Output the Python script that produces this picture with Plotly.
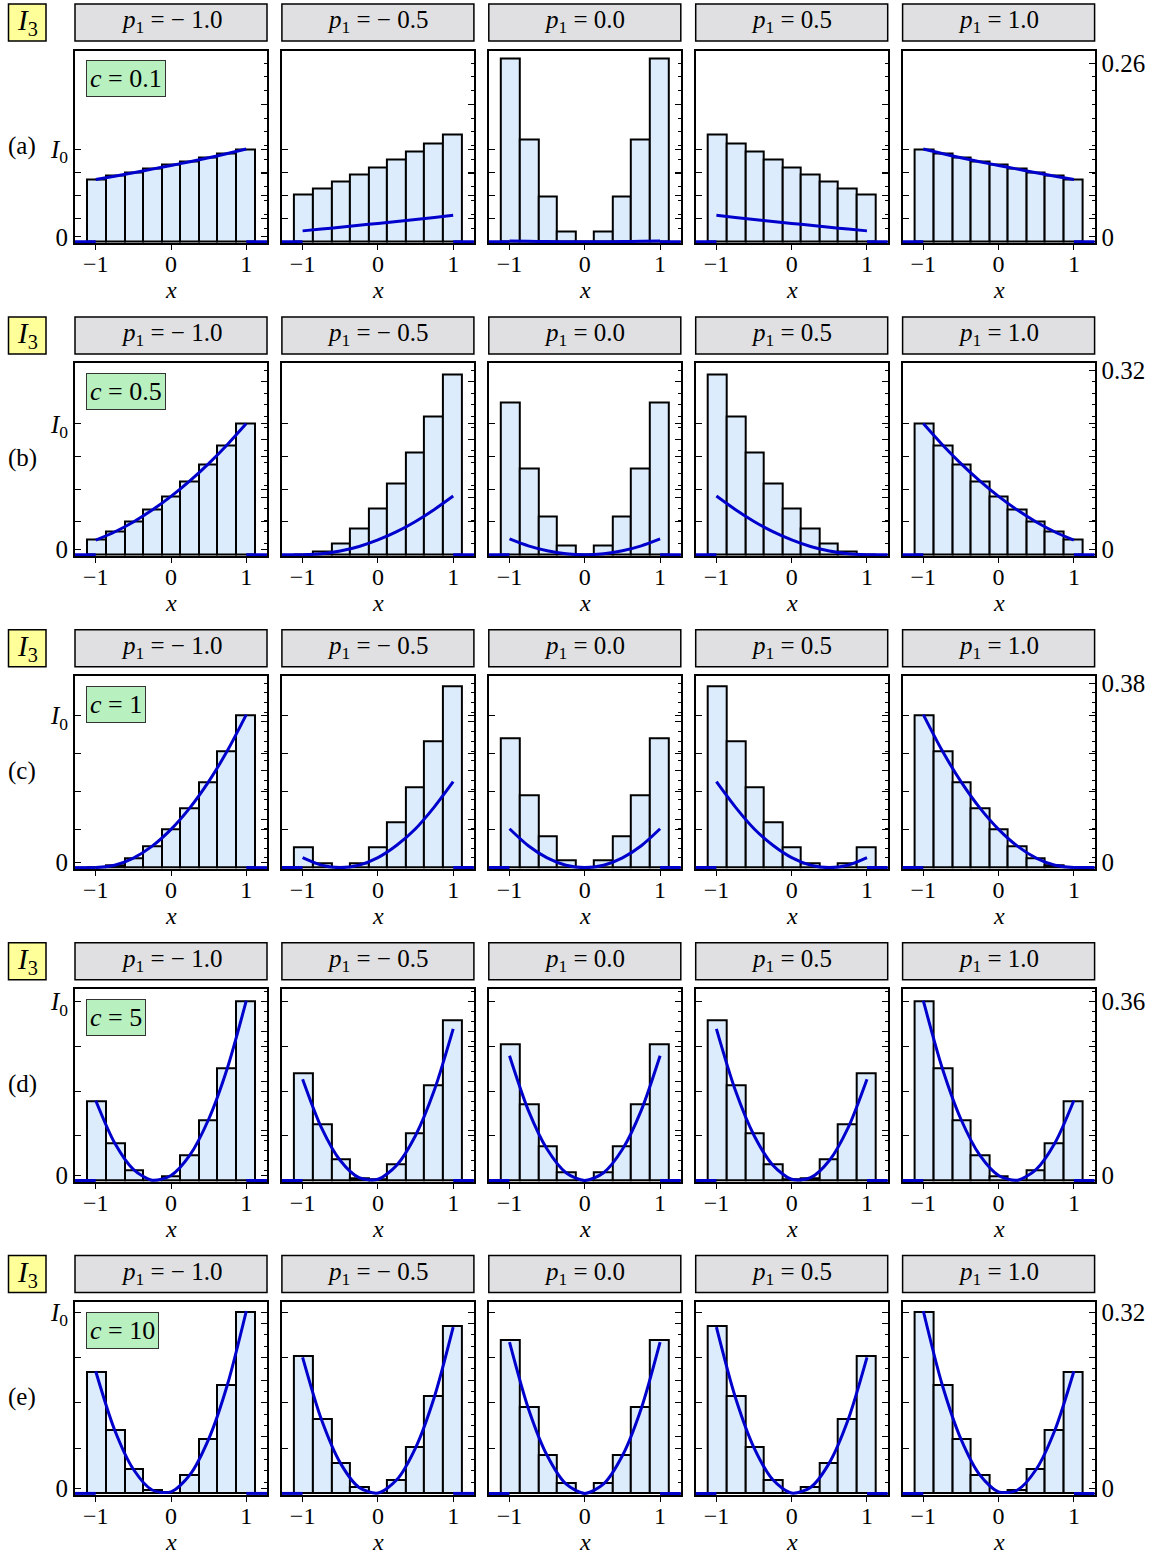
import plotly.graph_objects as go

W, H = 1158, 1558

# ---------------- data ----------------
x_bins = [-0.987, -0.740, -0.493, -0.247, 0.0, 0.247, 0.493, 0.740, 0.987]
bin_width = 0.2467
x_curve = [-1.0, -0.75, -0.5, -0.25, 0.0, 0.25, 0.5, 0.75, 1.0]
x_outside = [-1.4, -1.0, None, 1.0, 1.4]
y_outside = [0.0, 0.0, None, 0.0, 0.0]

p1_labels = ["− 1.0", "− 0.5", "0.0", "0.5", "1.0"]
c_labels = ["0.1", "0.5", "1", "5", "10"]
row_tags = ["(a)", "(b)", "(c)", "(d)", "(e)"]
top_tick = [0.26, 0.32, 0.38, 0.36, 0.32]
top_label = ["0.26", "0.32", "0.38", "0.36", "0.32"]
i0_level = [0.1348, 0.227, 0.313, 0.360, 0.320]
y_max = [0.2783, 0.3317, 0.3938, 0.385, 0.3376]

# c = 0.1
bars_c01 = [
    [0.0910, 0.0958, 0.1012, 0.1064, 0.1118, 0.1171, 0.1229, 0.1287, 0.1348],
    [0.0684, 0.0780, 0.0877, 0.0973, 0.1084, 0.1199, 0.1310, 0.1431, 0.1556],
    [0.2664, 0.1484, 0.0660, 0.0154, 0.0, 0.0154, 0.0660, 0.1484, 0.2664],
    [0.1556, 0.1431, 0.1310, 0.1199, 0.1084, 0.0973, 0.0877, 0.0780, 0.0684],
    [0.1348, 0.1287, 0.1229, 0.1171, 0.1118, 0.1064, 0.1012, 0.0958, 0.0910],
]
curve_c01 = [
    [0.0905, 0.0955, 0.1005, 0.1057, 0.1110, 0.1165, 0.1222, 0.1285, 0.1350],
    [0.0159, 0.0185, 0.0212, 0.0240, 0.0268, 0.0296, 0.0325, 0.0355, 0.0385],
    [0.0012, 0.0007, 0.0003, 0.0001, 0.0, 0.0001, 0.0003, 0.0007, 0.0012],
    [0.0385, 0.0355, 0.0325, 0.0296, 0.0268, 0.0240, 0.0212, 0.0185, 0.0159],
    [0.1350, 0.1285, 0.1222, 0.1165, 0.1110, 0.1057, 0.1005, 0.0955, 0.0905],
]
# c = 0.5
bars_c05 = [
    [0.0274, 0.0412, 0.0583, 0.0783, 0.1012, 0.1275, 0.1572, 0.1898, 0.2270],
    [0.0, 0.0057, 0.0200, 0.0457, 0.0800, 0.1240, 0.1770, 0.2390, 0.3127],
    [0.2647, 0.1492, 0.0669, 0.0166, 0.0, 0.0166, 0.0669, 0.1492, 0.2647],
    [0.3127, 0.2390, 0.1770, 0.1240, 0.0800, 0.0457, 0.0200, 0.0057, 0.0],
    [0.2270, 0.1898, 0.1572, 0.1275, 0.1012, 0.0783, 0.0583, 0.0412, 0.0274],
]
curve_c05 = [
    [0.0253, 0.0394, 0.0568, 0.0774, 0.1011, 0.1280, 0.1580, 0.1912, 0.2275],
    [0.0, 0.0016, 0.0064, 0.0143, 0.0257, 0.0400, 0.0577, 0.0785, 0.1018],
    [0.0274, 0.0154, 0.0069, 0.0017, 0.0, 0.0017, 0.0069, 0.0154, 0.0274],
    [0.1018, 0.0785, 0.0577, 0.0400, 0.0257, 0.0143, 0.0064, 0.0016, 0.0],
    [0.2275, 0.1912, 0.1580, 0.1280, 0.1011, 0.0774, 0.0568, 0.0394, 0.0253],
]
# c = 1
bars_c1 = [
    [0.0, 0.0048, 0.0192, 0.0432, 0.0788, 0.1220, 0.1760, 0.2400, 0.3130],
    [0.0411, 0.0089, 0.0, 0.0089, 0.0411, 0.0939, 0.1658, 0.2590, 0.3734],
    [0.2658, 0.1487, 0.0651, 0.0158, 0.0, 0.0158, 0.0651, 0.1487, 0.2658],
    [0.3734, 0.2590, 0.1658, 0.0939, 0.0411, 0.0089, 0.0, 0.0089, 0.0411],
    [0.3130, 0.2400, 0.1760, 0.1220, 0.0788, 0.0432, 0.0192, 0.0048, 0.0],
]
curve_c1 = [
    [0.0, 0.0049, 0.0197, 0.0443, 0.0788, 0.1230, 0.1770, 0.2410, 0.3150],
    [0.0206, 0.0052, 0.0, 0.0052, 0.0206, 0.0460, 0.0800, 0.1250, 0.1768],
    [0.0800, 0.0450, 0.0200, 0.0050, 0.0, 0.0050, 0.0200, 0.0450, 0.0800],
    [0.1768, 0.1250, 0.0800, 0.0460, 0.0206, 0.0052, 0.0, 0.0052, 0.0206],
    [0.3150, 0.2410, 0.1770, 0.1230, 0.0788, 0.0443, 0.0197, 0.0049, 0.0],
]
# c = 5
bars_c5 = [
    [0.1593, 0.0750, 0.0214, 0.0, 0.0080, 0.0502, 0.1218, 0.2262, 0.3600],
    [0.2162, 0.1124, 0.0422, 0.0047, 0.0020, 0.0321, 0.0957, 0.1928, 0.3233],
    [0.2744, 0.1540, 0.0689, 0.0167, 0.0, 0.0167, 0.0689, 0.1540, 0.2744],
    [0.3233, 0.1928, 0.0957, 0.0321, 0.0020, 0.0047, 0.0422, 0.1124, 0.2162],
    [0.3600, 0.2262, 0.1218, 0.0502, 0.0080, 0.0, 0.0214, 0.0750, 0.1593],
]
curve_c5 = [
    [0.1610, 0.0761, 0.0226, 0.0006, 0.0101, 0.0509, 0.1233, 0.2270, 0.3620],
    [0.2040, 0.1065, 0.0403, 0.0057, 0.0025, 0.0309, 0.0907, 0.1820, 0.3050],
    [0.2510, 0.1412, 0.0628, 0.0157, 0.0, 0.0157, 0.0628, 0.1412, 0.2510],
    [0.3050, 0.1820, 0.0907, 0.0309, 0.0025, 0.0057, 0.0403, 0.1065, 0.2040],
    [0.3620, 0.2270, 0.1233, 0.0509, 0.0101, 0.0006, 0.0226, 0.0761, 0.1610],
]
# c = 10
bars_c10 = [
    [0.2140, 0.1120, 0.0428, 0.0059, 0.0010, 0.0322, 0.0955, 0.1910, 0.3200],
    [0.2420, 0.1320, 0.0533, 0.0117, 0.0, 0.0240, 0.0810, 0.1717, 0.2960],
    [0.2714, 0.1524, 0.0674, 0.0176, 0.0, 0.0176, 0.0674, 0.1524, 0.2714],
    [0.2960, 0.1717, 0.0810, 0.0240, 0.0, 0.0117, 0.0533, 0.1320, 0.2420],
    [0.3200, 0.1910, 0.0955, 0.0322, 0.0010, 0.0059, 0.0428, 0.1120, 0.2140],
]
curve_c10 = [
    [0.2155, 0.1124, 0.0426, 0.0060, 0.0027, 0.0326, 0.0958, 0.1922, 0.3219],
    [0.2400, 0.1303, 0.0539, 0.0106, 0.0007, 0.0240, 0.0805, 0.1702, 0.2933],
    [0.2670, 0.1500, 0.0668, 0.0167, 0.0, 0.0167, 0.0668, 0.1500, 0.2670],
    [0.2933, 0.1702, 0.0805, 0.0240, 0.0007, 0.0106, 0.0539, 0.1303, 0.2400],
    [0.3219, 0.1922, 0.0958, 0.0326, 0.0027, 0.0060, 0.0426, 0.1124, 0.2155],
]

bars_all = [bars_c01, bars_c05, bars_c1, bars_c5, bars_c10]
curves_all = [curve_c01, curve_c05, curve_c1, curve_c5, curve_c10]

# ---------------- layout geometry (pixels) ----------------
FONT = "Liberation Serif"
FS = 25
BAR_FILL = "#dcecfc"
CURVE = "#0000cc"
PANEL_W = 192.0
PANEL_H = 192.8
COL_STEP = 206.9
ROW_STEP = 312.9
ZERO_LABEL_LIFT = 5.0   # px: the "0" labels sit slightly above the baseline


def col_left(c):
    return 75.0 + COL_STEP * c


def row_top(r):
    return 50.5 + ROW_STEP * r


def px_x(x):
    return x / W


def px_y(y):
    return 1.0 - y / H


fig = go.Figure()
layout = {}
shapes = []
annotations = []
tfont = dict(family=FONT, size=FS, color="black")

for r in range(5):
    top = row_top(r)
    bot = top + PANEL_H
    ymax = y_max[r]
    yrng = [-ymax / PANEL_H * 1.5, ymax]
    per_px = (yrng[1] - yrng[0]) / PANEL_H
    zero_lab = ZERO_LABEL_LIFT * per_px
    tenths = [v for v in [0.0, 0.1, 0.2, 0.3] if v < ymax]
    minors = [round(0.02 * i, 2) for i in range(0, 21) if 0.02 * i < ymax]
    i0 = i0_level[r]
    i0_ticks = [0.0, i0 / 4, i0 / 2, 3 * i0 / 4, i0]

    for c in range(5):
        k = r * 5 + c + 1
        kk = 25 + k
        left = col_left(c)
        right = left + PANEL_W
        xname = f"x{k}"
        yname = f"y{k}"
        yname2 = f"y{kk}"

        fig.add_trace(go.Bar(
            x=x_bins, y=bars_all[r][c], width=bin_width,
            marker=dict(color=BAR_FILL, line=dict(color="black", width=2)),
            xaxis=xname, yaxis=yname, showlegend=False, hoverinfo="skip"))
        fig.add_trace(go.Scatter(
            x=x_curve, y=curves_all[r][c], mode="lines",
            line=dict(color=CURVE, width=3, shape="spline", smoothing=0.8),
            xaxis=xname, yaxis=yname, showlegend=False, hoverinfo="skip"))
        # zero part of the curve outside [-1, 1]; lives on the overlaid (I0) axis
        fig.add_trace(go.Scatter(
            x=x_outside, y=y_outside, mode="lines",
            line=dict(color=CURVE, width=3),
            xaxis=xname, yaxis=yname2, showlegend=False, hoverinfo="skip"))

        layout[f"xaxis{k}"] = dict(
            domain=[px_x(left), px_x(right)], anchor=yname, automargin=False,
            range=[-1.275, 1.275], showgrid=False, zeroline=False,
            showline=True, linecolor="black", linewidth=2, mirror=True,
            ticks="outside", ticklen=5, tickwidth=1, tickcolor="black",
            tickvals=[-1, 0, 1], ticktext=["−1", "0", "1"], ticklabelstandoff=-7,
            tickfont=dict(family=FONT, size=24, color="black"),
            layer="below traces", fixedrange=True)

        # right axis: frame + fine ticks (labels only on the last column)
        ydict = dict(
            domain=[px_y(bot), px_y(top)], anchor=xname, side="right", automargin=False,
            range=yrng, showgrid=False, zeroline=False,
            showline=True, linecolor="black", linewidth=2, mirror=True,
            ticks="inside", ticklen=6, tickwidth=1, tickcolor="black",
            tickmode="array",
            showticklabels=(c == 4), tickfont=tfont,
            minor=dict(tickmode="array", tickvals=minors, ticks="inside",
                       ticklen=3, tickwidth=1, tickcolor="black"),
            layer="below traces", fixedrange=True)
        if c == 4:
            ydict.update(tickvals=[zero_lab, top_tick[r]], ticktext=["0", top_label[r]])
        else:
            ydict.update(tickvals=tenths)
        layout[f"yaxis{k}"] = ydict

        # left axis: I0 scale ticks (labels only on the first column)
        ldict = dict(
            overlaying=yname, anchor=xname, side="left", automargin=False,
            range=yrng, showgrid=False, zeroline=False,
            showline=True, linecolor="black", linewidth=2, mirror="ticks",
            ticks="inside", ticklen=6, tickwidth=1, tickcolor="black",
            showticklabels=(c == 0), tickfont=tfont,
            layer="below traces", fixedrange=True)
        if c == 0:
            ldict.update(tickmode="array", tickvals=[zero_lab, i0],
                         ticktext=["0", "<i>I</i><sub>0</sub>"],
                         minor=dict(tickmode="array", tickvals=i0_ticks[1:4], ticks="inside",
                                    ticklen=6, tickwidth=1, tickcolor="black"))
        else:
            ldict.update(tickmode="array", tickvals=i0_ticks)
        layout[f"yaxis{kk}"] = ldict

        # x axis title
        annotations.append(dict(
            x=px_x((left + right) / 2), y=px_y(bot + 47), xref="paper", yref="paper",
            text="<i>x</i>", showarrow=False, xanchor="center", yanchor="middle",
            font=dict(family=FONT, size=24, color="black")))

        # header strip
        shapes.append(dict(type="rect", xref="paper", yref="paper",
                           x0=px_x(left), x1=px_x(right),
                           y0=px_y(top - 9.5), y1=px_y(top - 46.5),
                           line=dict(color="black", width=1.5), fillcolor="#e0e0e2"))
        annotations.append(dict(
            x=px_x((left + right) / 2), y=px_y(top - 28.5), xref="paper", yref="paper",
            text=f"<i>p</i><sub>1</sub> = {p1_labels[c]}", showarrow=False,
            xanchor="center", yanchor="middle", font=tfont))

    # yellow I3 box
    shapes.append(dict(type="rect", xref="paper", yref="paper",
                       x0=px_x(8.5), x1=px_x(46), y0=px_y(top - 9.5), y1=px_y(top - 46.5),
                       line=dict(color="black", width=1.5), fillcolor="#ffff99"))
    annotations.append(dict(
        x=px_x(27.5), y=px_y(top - 28.5), xref="paper", yref="paper",
        text="<i>I</i><sub>3</sub>", showarrow=False, xanchor="center", yanchor="middle",
        font=dict(family=FONT, size=29, color="black")))
    # row tag
    annotations.append(dict(
        x=px_x(22), y=px_y(top + 95), xref="paper", yref="paper",
        text=row_tags[r], showarrow=False, xanchor="center", yanchor="middle",
        font=tfont))
    # c label
    annotations.append(dict(
        x=px_x(86), y=px_y(top + 9.5), xref="paper", yref="paper",
        text=f"<i>c</i> = {c_labels[r]}", showarrow=False, xanchor="left", yanchor="top",
        bgcolor="#b8f0c0", bordercolor="#333333", borderwidth=1, borderpad=3,
        font=dict(family=FONT, size=26, color="black")))

fig.update_layout(
    template="none",
    width=W, height=H, margin=dict(l=0, r=0, t=0, b=0, pad=0, autoexpand=False),
    paper_bgcolor="white", plot_bgcolor="white",
    font=tfont, bargap=0, showlegend=False,
    shapes=shapes, annotations=annotations, **layout)

fig.write_html("out.html", config={"displayModeBar": False},
               post_script="document.body.style.margin='0px';")
